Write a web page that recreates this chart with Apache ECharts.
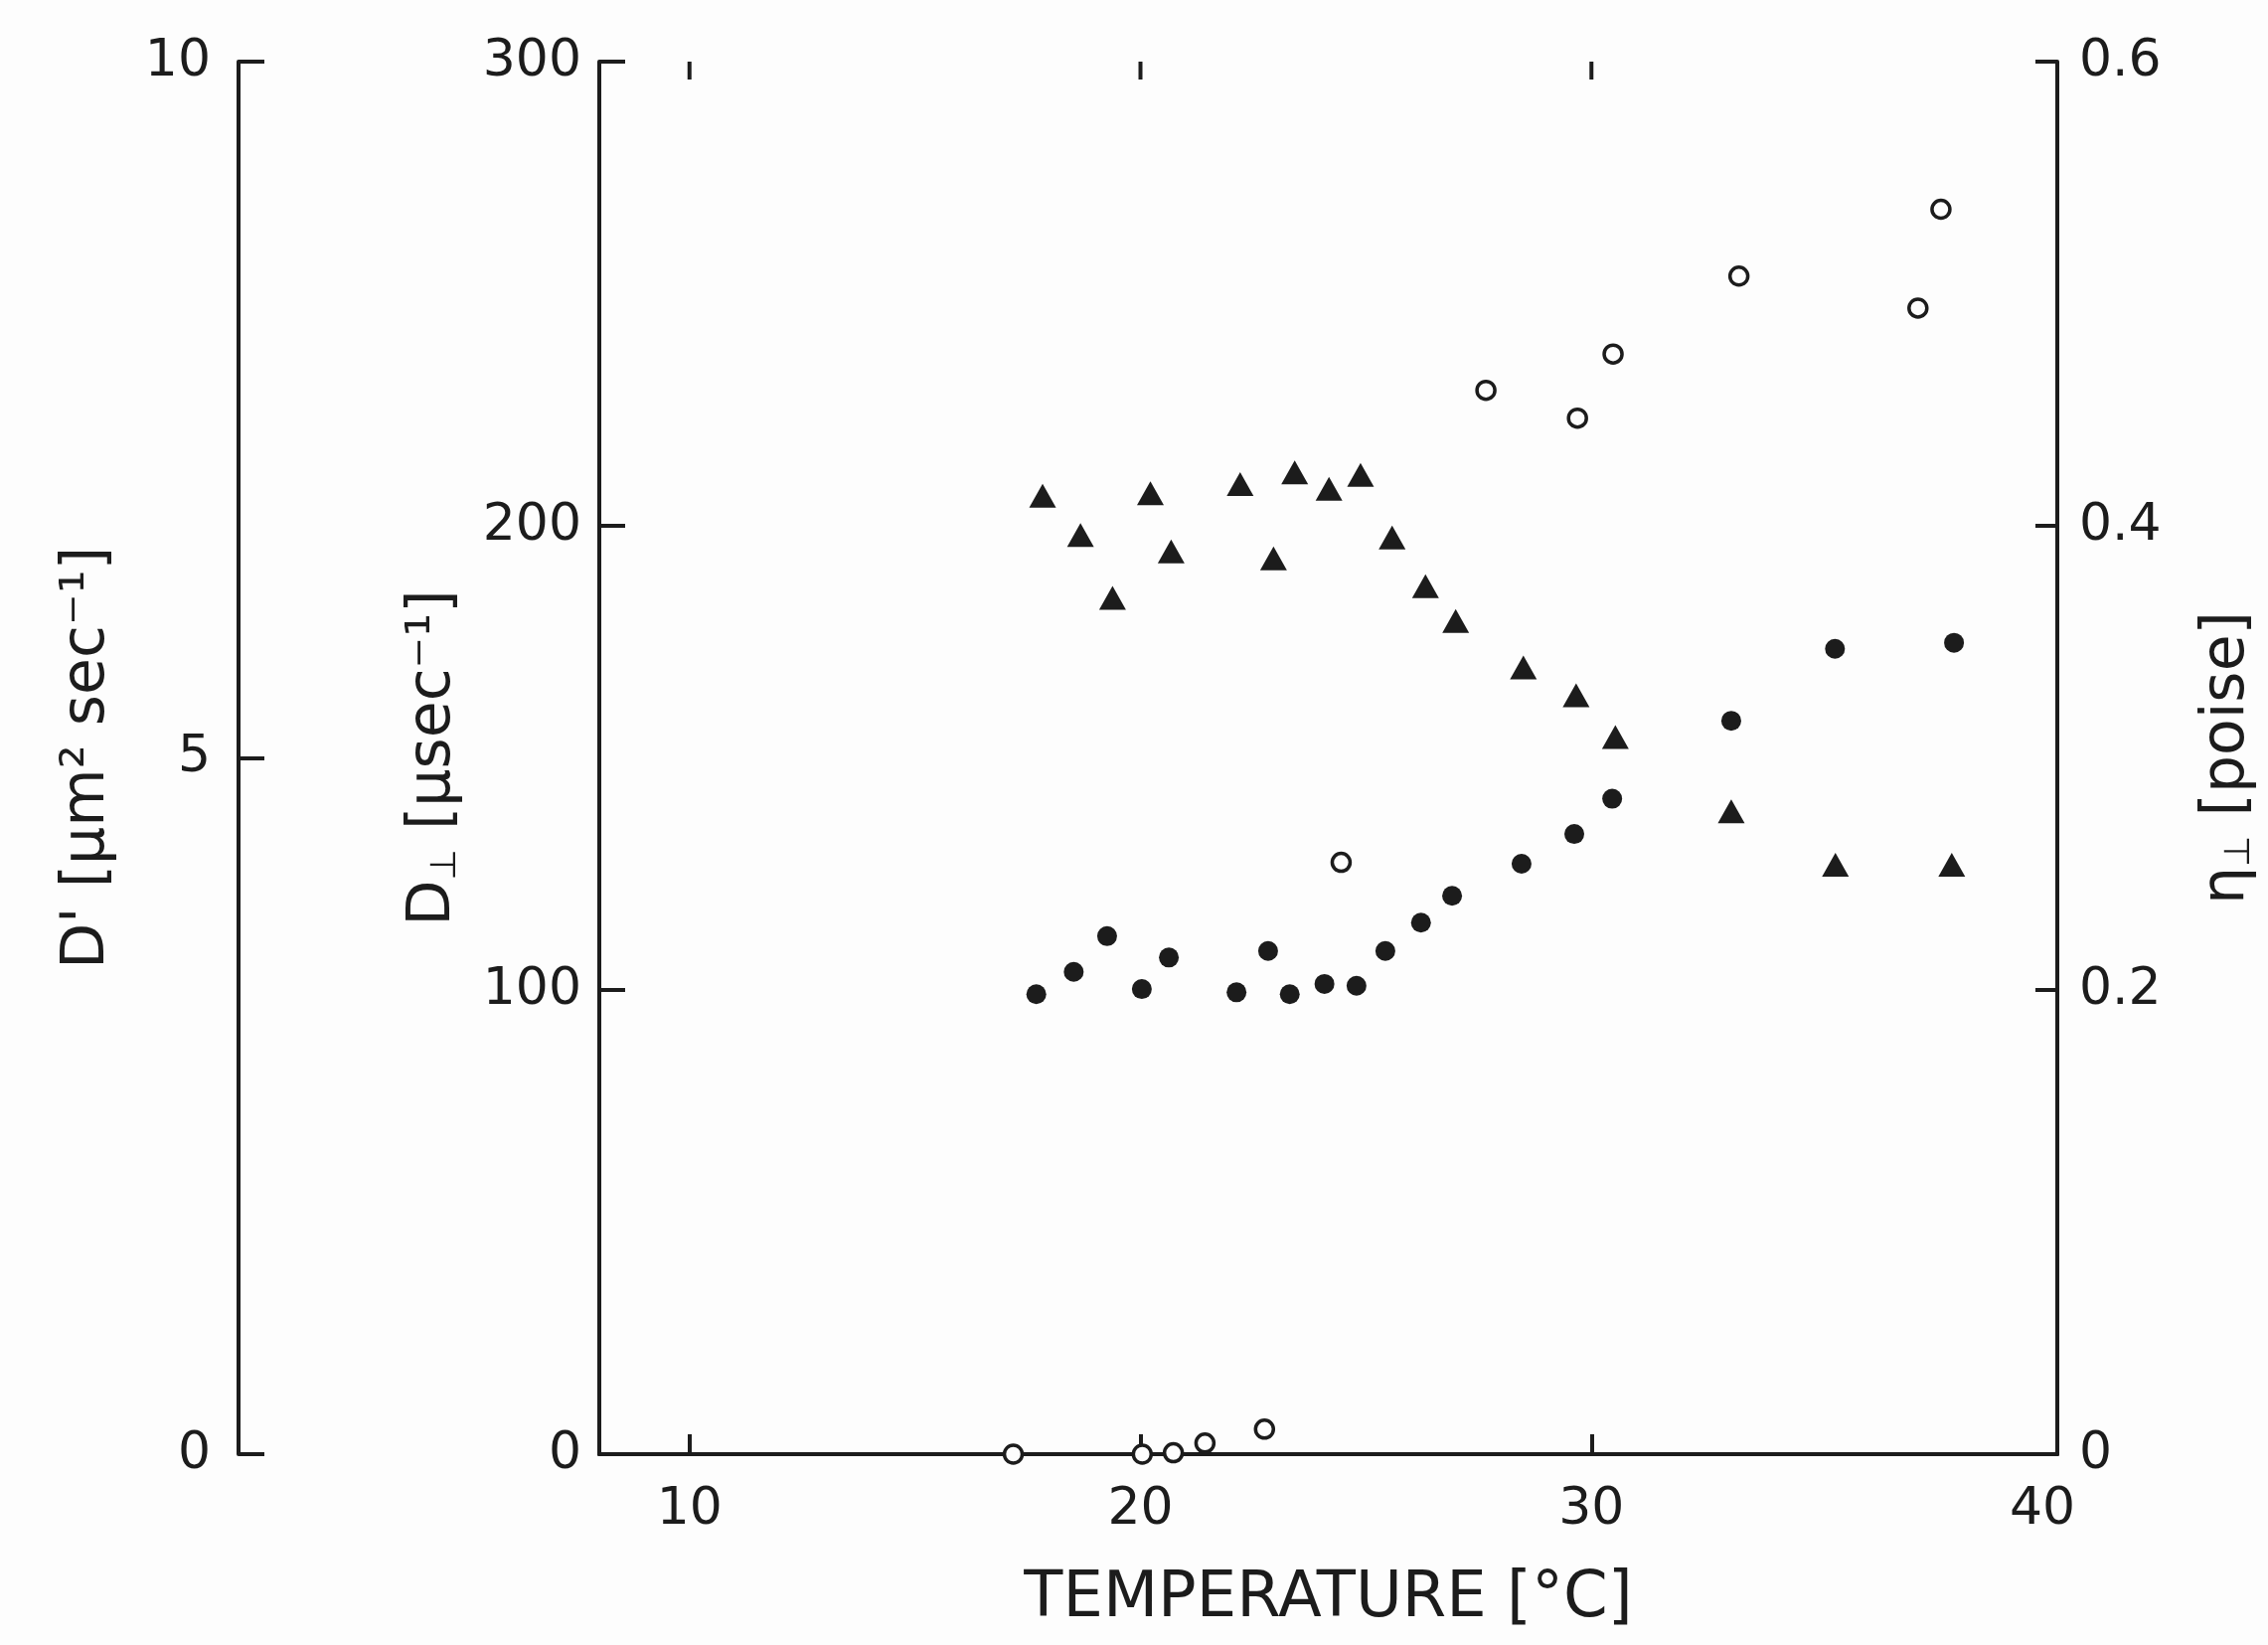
<!DOCTYPE html>
<html>
<head>
<meta charset="utf-8">
<script src="https://cdn.jsdelivr.net/npm/echarts@6/dist/echarts.min.js"></script>
<style>
  html, body { margin: 0; padding: 0; background: #fdfdfd; }
  #chart { width: 2282px; height: 1655px; }
</style>
</head>
<body>
<div id="chart"></div>
<script>
// eta_perp (filled triangles, right axis)
var triTemp = [17.83, 18.67, 19.38, 20.22, 20.68, 22.21, 22.95, 23.42, 24.18, 24.88,
               25.58, 26.32, 26.99, 28.49, 29.66, 30.53, 33.1, 35.41, 37.99];
var triEta = [0.413, 0.396, 0.369, 0.414, 0.389, 0.418, 0.386, 0.423, 0.416, 0.422,
              0.395, 0.374, 0.359, 0.339, 0.327, 0.309, 0.277, 0.254, 0.254];

// D_perp (filled circles, inner left axis)
var dotTemp = [17.69, 18.52, 19.26, 20.03, 20.63, 22.13, 22.83, 23.31, 24.08, 24.79,
               25.43, 26.22, 26.91, 28.45, 29.62, 30.46, 33.1, 35.4, 38.04];
var dotDperp = [99.1, 103.9, 111.6, 100.2, 107.0, 99.5, 108.4, 99.1, 101.3, 100.9,
                108.4, 114.5, 120.3, 127.2, 133.6, 141.2, 158.0, 173.5, 174.8];

// D' (open circles, outer left axis)
var openTemp = [17.18, 20.04, 20.73, 21.43, 22.75, 24.45, 27.66, 29.69, 30.48, 33.27, 37.24, 37.75];
var openDprime = [0, 0, 0.01, 0.08, 0.18, 4.25, 7.64, 7.44, 7.9, 8.46, 8.23, 8.94];

var xTickValues = [10, 20, 30];
var xLabelValues = [10, 20, 30, 40];

var ink = '#1c1c1c';
var font = 'DejaVu Sans';

function zip(a, b) {
  return a.map(function (v, i) { return [v, b[i]]; });
}

var chart = echarts.init(document.getElementById('chart'));

var subRich = {
  n: { fontSize: 60, color: ink, fontFamily: font },
  s: { fontSize: 36, color: ink, fontFamily: font, verticalAlign: 'bottom', padding: [26, 0, 0, 0] }
};

var option = {
  backgroundColor: '#fdfdfd',
  animation: false,
  textStyle: { fontFamily: font, color: ink },
  grid: {
    left: 603,
    right: 212,
    top: 62,
    bottom: 192,
    containLabel: false,
    outerBoundsMode: 'none'
  },
  xAxis: [
    {
      type: 'value',
      position: 'bottom',
      min: 8,
      max: 40.33,
      splitLine: { show: false },
      axisLine: { lineStyle: { color: ink, width: 4 } },
      axisTick: {
        inside: true, length: 20, customValues: xTickValues,
        lineStyle: { color: ink, width: 4 }
      },
      axisLabel: {
        customValues: xLabelValues, margin: 30,
        fontSize: 52, color: ink, fontFamily: font
      },
      name: 'TEMPERATURE [°C]',
      nameLocation: 'middle',
      nameGap: 114,
      nameTextStyle: { fontSize: 64, color: ink, fontFamily: font }
    },
    {
      type: 'value',
      position: 'top',
      min: 8,
      max: 40.33,
      splitLine: { show: false },
      axisLine: { show: true, lineStyle: { color: ink, width: 4 } },
      axisTick: { show: false },
      axisLabel: { show: false }
    }
  ],
  yAxis: [
    {
      type: 'value',
      position: 'left',
      min: 0,
      max: 300,
      interval: 100,
      splitLine: { show: false },
      axisLine: { show: true, lineStyle: { color: ink, width: 4 } },
      axisTick: { show: true, inside: true, length: 26, lineStyle: { color: ink, width: 4 } },
      axisLabel: { margin: 18, fontSize: 52, color: ink, fontFamily: font },
      name: '{n|D}{s|⊥}{n| [μsec⁻¹]}',
      nameLocation: 'middle',
      nameRotate: 90,
      nameGap: 136,
      nameTextStyle: { rich: subRich }
    },
    {
      type: 'value',
      position: 'left',
      offset: 363,
      min: 0,
      max: 10,
      interval: 5,
      splitLine: { show: false },
      axisLine: { show: true, lineStyle: { color: ink, width: 4 } },
      axisTick: { show: true, inside: true, length: 26, lineStyle: { color: ink, width: 4 } },
      axisLabel: { margin: 28, fontSize: 52, color: ink, fontFamily: font },
      name: "D' [μm² sec⁻¹]",
      nameLocation: 'middle',
      nameRotate: 90,
      nameGap: 122,
      nameTextStyle: { fontSize: 60, color: ink, fontFamily: font }
    },
    {
      type: 'value',
      position: 'right',
      min: 0,
      max: 0.6,
      interval: 0.2,
      splitLine: { show: false },
      axisLine: { show: true, lineStyle: { color: ink, width: 4 } },
      axisTick: { show: true, inside: true, length: 22, lineStyle: { color: ink, width: 4 } },
      axisLabel: {
        margin: 22, fontSize: 52, color: ink, fontFamily: font,
        formatter: function (v) { return v === 0 ? '0' : v.toFixed(1); }
      },
      name: '{n|η}{s|⊥}{n| [poise]}',
      nameLocation: 'middle',
      nameRotate: 90,
      nameGap: 140,
      nameTextStyle: { rich: subRich }
    }
  ],
  series: [
    {
      name: 'η⊥',
      type: 'scatter',
      xAxisIndex: 0,
      yAxisIndex: 2,
      symbol: 'triangle',
      symbolSize: [27, 24],
      itemStyle: { color: ink, opacity: 1 },
      data: zip(triTemp, triEta)
    },
    {
      name: 'D⊥',
      type: 'scatter',
      xAxisIndex: 0,
      yAxisIndex: 0,
      symbol: 'circle',
      symbolSize: 20,
      itemStyle: { color: ink, opacity: 1 },
      data: zip(dotTemp, dotDperp)
    },
    {
      name: "D'",
      type: 'scatter',
      xAxisIndex: 0,
      yAxisIndex: 1,
      symbol: 'circle',
      symbolSize: 18,
      itemStyle: { color: '#fdfdfd', borderColor: ink, borderWidth: 3.5, opacity: 1 },
      data: zip(openTemp, openDprime)
    },
    {
      // inward tick marks along the top frame
      name: 'top ticks',
      type: 'scatter',
      xAxisIndex: 1,
      yAxisIndex: 0,
      clip: false,
      silent: true,
      symbol: 'rect',
      symbolSize: [4, 18],
      symbolOffset: [0, 9],
      itemStyle: { color: ink, opacity: 1 },
      data: xTickValues.map(function (v) { return [v, 300]; })
    }
  ]
};

chart.setOption(option);
</script>
</body>
</html>
